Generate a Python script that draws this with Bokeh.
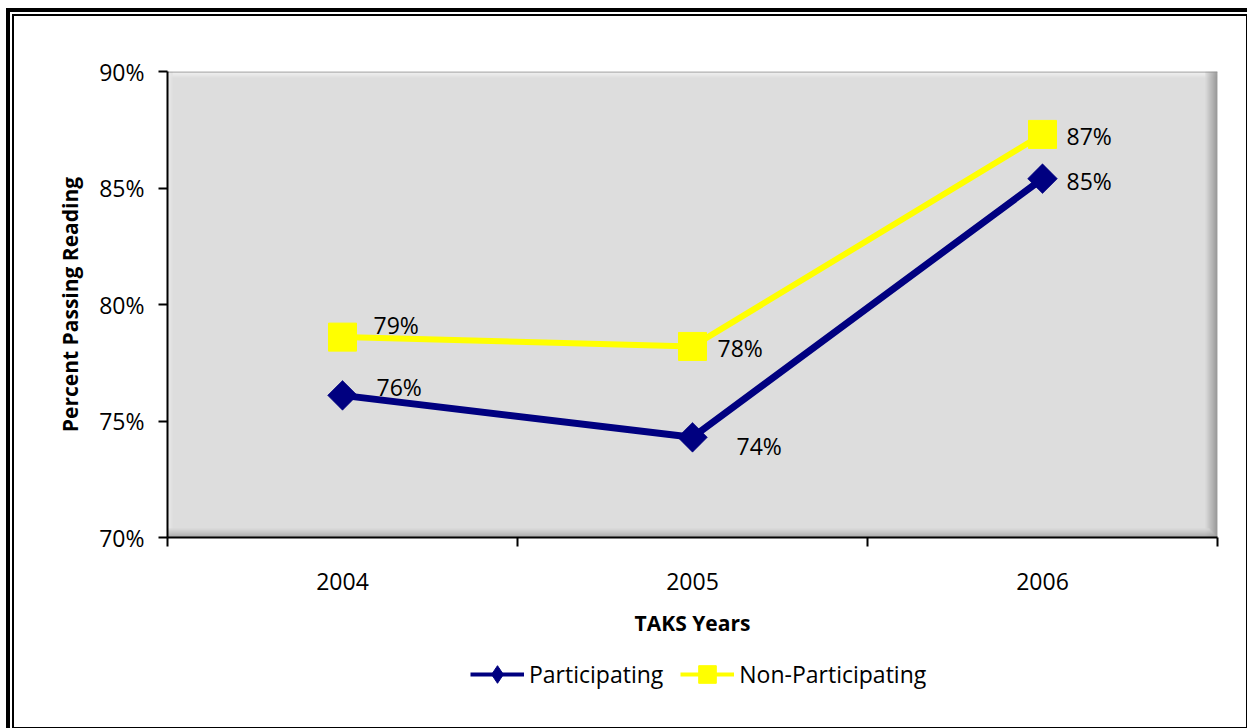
from bokeh.plotting import figure
from bokeh.layouts import column
from bokeh.models import (ColumnDataSource, FixedTicker, PrintfTickFormatter, Legend,
                          LegendItem, BoxAnnotation, Range1d)
from bokeh.embed import file_html
from bokeh.resources import INLINE
from bokeh.core.properties import value
import math

# ---- data ----
years = ["2004", "2005", "2006"]
participating = [76.1, 74.3, 85.4]
non_participating = [78.6, 78.2, 87.3]
y_ticks = [70, 75, 80, 85, 90]

# ---- layout / style ----
FONT = "Open Sans"
NAVY = "#000080"
YELLOW = "#FFFF00"
OX, OY = 14, 16            # figure origin inside the double frame
W = 1232                   # figure width
H = 629                    # chart figure height
HL = 82                    # legend strip height
L, R, T, B = 167 - OX, 1217 - OX, 71 - OY, 537 - OY   # frame edges in figure px

# label offsets in screen pixels (layout only)
p_dx = [34, 44, 24]
p_dy = [-8, 9, 2]
np_dx = [31, 25, 24]
np_dy = [-12, 2, 2]

xs = [i + 0.5 for i in range(len(years))]

p = figure(width=W, height=H, output_backend="svg", toolbar_location=None,
           x_range=Range1d(0, len(years)), y_range=Range1d(y_ticks[0], y_ticks[-1]),
           min_border_left=L, min_border_right=W - R, min_border_top=T,
           min_border_bottom=H - B,
           background_fill_color="#DDDDDD", border_fill_color="white",
           outline_line_color=None)
p.xgrid.visible = False
p.ygrid.visible = False

# bevel of plot area
def mix(c1, c2, t):
    return "#%02x%02x%02x" % tuple(int(round(a + (b - a) * t)) for a, b in zip(c1, c2))

def strip(l, r, t, b, color):
    p.add_layout(BoxAnnotation(left=l, right=r, top=t, bottom=b,
                               left_units="canvas", right_units="canvas",
                               top_units="canvas", bottom_units="canvas",
                               fill_color=color, fill_alpha=1, line_color=None,
                               level="underlay"))

base = (0xDD, 0xDD, 0xDD)
for i in range(6):
    strip(L, R, T + i, T + i + 1, mix((0xFA, 0xFA, 0xFA), base, i / 6))
for i in range(5):
    strip(L + i, L + i + 1, T, B, mix((0xF0, 0xF0, 0xF0), base, i / 5))
for i in range(12):
    strip(R - i - 1, R - i, T, B, mix((0x80, 0x80, 0x80), base, i / 12))
for i in range(9):
    strip(L, R - i, B - i - 1, B - i, mix((0x99, 0x99, 0x99), base, i / 9))
strip(L, R, T, T + 1, "#909090")

# ---- series ----
src_p = ColumnDataSource(dict(x=xs, y=participating,
                              t=["{:.0f}%".format(v) for v in participating],
                              dx=p_dx, dy=p_dy))
src_np = ColumnDataSource(dict(x=xs, y=non_participating,
                               t=["{:.0f}%".format(v) for v in non_participating],
                               dx=np_dx, dy=np_dy))

p.line("x", "y", source=src_p, line_color=NAVY, line_width=7)
p.scatter("x", "y", source=src_p, marker="square", angle=math.pi / 4, size=21,
          fill_color=NAVY, line_color=NAVY, line_alpha=0.6)
p.line("x", "y", source=src_np, line_color=YELLOW, line_width=6)
p.scatter("x", "y", source=src_np, marker="square", size=28,
          fill_color=YELLOW, line_color=YELLOW)

for s in (src_p, src_np):
    p.text("x", "y", text="t", source=s, x_offset="dx", y_offset="dy",
           text_font=value(FONT), text_font_size="23px", text_color="black",
           text_align="left", text_baseline="middle")

# ---- axes ----
ya = p.yaxis[0]
ya.ticker = FixedTicker(ticks=y_ticks, minor_ticks=[])
ya.formatter = PrintfTickFormatter(format="%d%%")
ya.axis_line_color = "black"
ya.axis_line_width = 2
ya.major_tick_line_color = "black"
ya.major_tick_line_width = 2
ya.major_tick_out = 9
ya.major_tick_in = 0
ya.minor_tick_out = 0
ya.minor_tick_in = 0
ya.major_label_text_font = FONT
ya.major_label_text_font_size = "23px"
ya.major_label_text_color = "black"
ya.major_label_standoff = 14
ya.axis_label = "Percent Passing Reading"
ya.axis_label_text_font = FONT
ya.axis_label_text_font_size = "21px"
ya.axis_label_text_font_style = "bold"
ya.axis_label_text_color = "black"
ya.axis_label_standoff = 12

xa = p.xaxis[0]
xa.ticker = FixedTicker(ticks=xs, minor_ticks=list(range(len(years) + 1)))
xa.major_label_overrides = {x: y for x, y in zip(xs, years)}
xa.axis_line_color = "black"
xa.axis_line_width = 2
xa.major_tick_out = 0
xa.major_tick_in = 0
xa.minor_tick_line_color = "black"
xa.minor_tick_line_width = 2
xa.minor_tick_out = 9
xa.minor_tick_in = 0
xa.major_label_text_font = FONT
xa.major_label_text_font_size = "23px"
xa.major_label_text_color = "black"
xa.major_label_standoff = 26
xa.axis_label = "TAKS Years"
xa.axis_label_text_font = FONT
xa.axis_label_text_font_size = "21px"
xa.axis_label_text_font_style = "bold"
xa.axis_label_text_color = "black"
xa.axis_label_standoff = 16

# ---- legend strip (separate figure; its glyph renderers lie outside its view) ----
lg = figure(width=W, height=HL, output_backend="svg", toolbar_location=None,
            x_range=Range1d(-10, -9), y_range=Range1d(0, 1),
            x_axis_location=None, y_axis_location=None,
            min_border_left=0, min_border_right=0, min_border_top=0, min_border_bottom=0,
            background_fill_color="white", border_fill_color="white",
            outline_line_color=None)
lg.xgrid.visible = False
lg.ygrid.visible = False
lp_line = lg.line("x", "y", source=src_p, line_color=NAVY, line_width=4)
lp_mark = lg.scatter("x", "y", source=src_p, marker="diamond", fill_color=NAVY,
                     line_color=NAVY, size=12)
lnp_line = lg.line("x", "y", source=src_np, line_color=YELLOW, line_width=4)
lnp_mark = lg.scatter("x", "y", source=src_np, marker="square", fill_color=YELLOW,
                      line_color=YELLOW, size=12)

GH = 44
LEG_LEFT, LEG_CY = 470, 674          # canvas position of legend
legend = Legend(items=[LegendItem(label="Participating", renderers=[lp_line, lp_mark]),
                       LegendItem(label="Non-Participating", renderers=[lnp_line, lnp_mark])],
                orientation="horizontal",
                location=(LEG_LEFT - (OX + L), HL - (LEG_CY - GH / 2 - (OY + H)) - GH),
                border_line_color=None, background_fill_alpha=0,
                label_text_font=FONT, label_text_font_size="23px",
                label_text_color="black",
                glyph_width=54, glyph_height=GH, label_standoff=5, spacing=17,
                padding=0, margin=0)
lg.add_layout(legend, "center")

# double outer frame via wrapper styles
inner = column(p, lg, spacing=0,
               styles={"border-left": "2px solid black", "border-top": "2px solid black",
                       "border-right": "1px solid black", "border-bottom": "1px solid black"})
outer = column(inner, styles={"border-left": "4px solid black", "border-top": "4px solid black",
                              "padding-left": "2px", "padding-top": "2px",
                              "margin-left": "6px", "margin-top": "8px"})

open("out.html", "w").write(file_html(outer, INLINE))
